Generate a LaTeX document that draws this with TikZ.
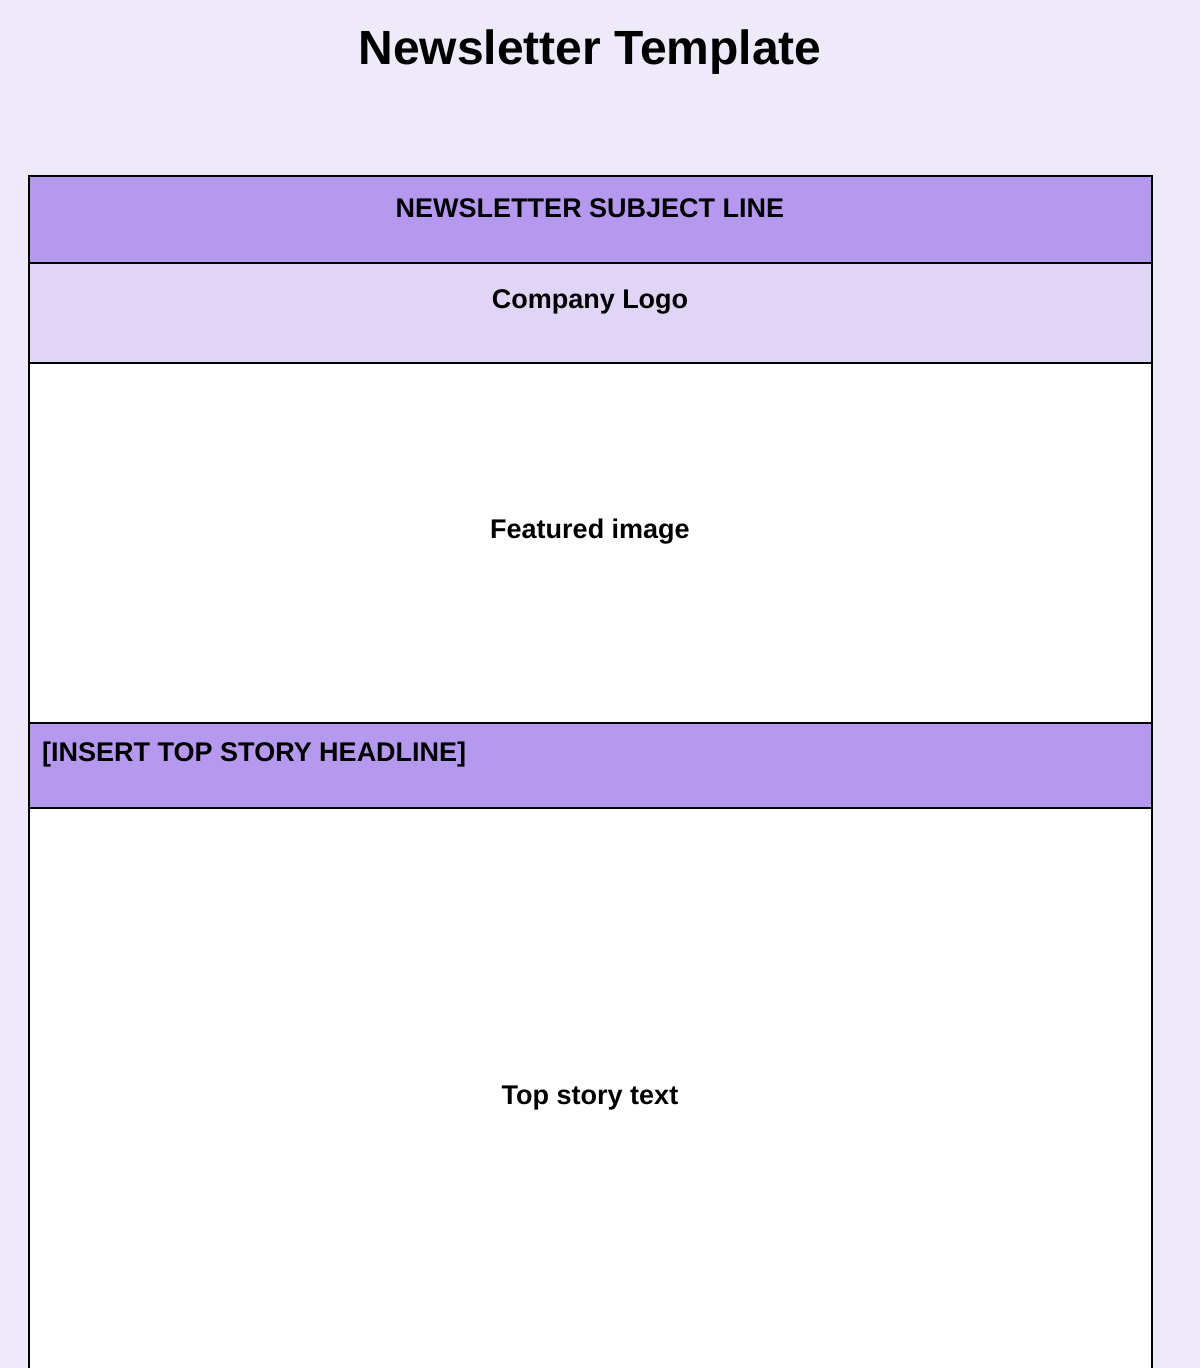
\documentclass[tikz,border=0pt]{standalone}
\usepackage{fontspec}
\setmainfont{Liberation Sans}
\definecolor{bg}{HTML}{EFEAF9}
\definecolor{dark}{HTML}{B599EE}
\definecolor{light}{HTML}{E0D4F7}
\begin{document}
\begin{tikzpicture}[x=1pt,y=-1pt,
  row/.style={draw=black,line width=1.6pt},
  lbl/.style={font=\bfseries\fontsize{27}{30}\selectfont,inner sep=0pt}]
\fill[bg] (0,0) rectangle (1200,1368);
\useasboundingbox (0,0) rectangle (1200,1368);
\node[font=\bfseries\fontsize{48}{54}\selectfont] (title) at (590,52) {Newsletter Template};
\draw[row,fill=dark] (29,176) rectangle (1152,263);
\draw[row,fill=light] (29,263) rectangle (1152,363);
\draw[row,fill=white] (29,363) rectangle (1152,723);
\draw[row,fill=dark] (29,723) rectangle (1152,808);
\draw[row,fill=white] (29,808) -- (29,1375) -- (1152,1375) -- (1152,808) -- cycle;
\node[lbl] (subj) at (590,208) {NEWSLETTER SUBJECT LINE};
\node[lbl] (logo) at (590,302) {Company Logo};
\node[lbl] (img) at (590,532) {Featured image};
\node[lbl,anchor=west] (head) at (42,755) {[INSERT TOP STORY HEADLINE]};
\node[lbl] (text) at (590,1098) {Top story text};
\end{tikzpicture}
\end{document}
